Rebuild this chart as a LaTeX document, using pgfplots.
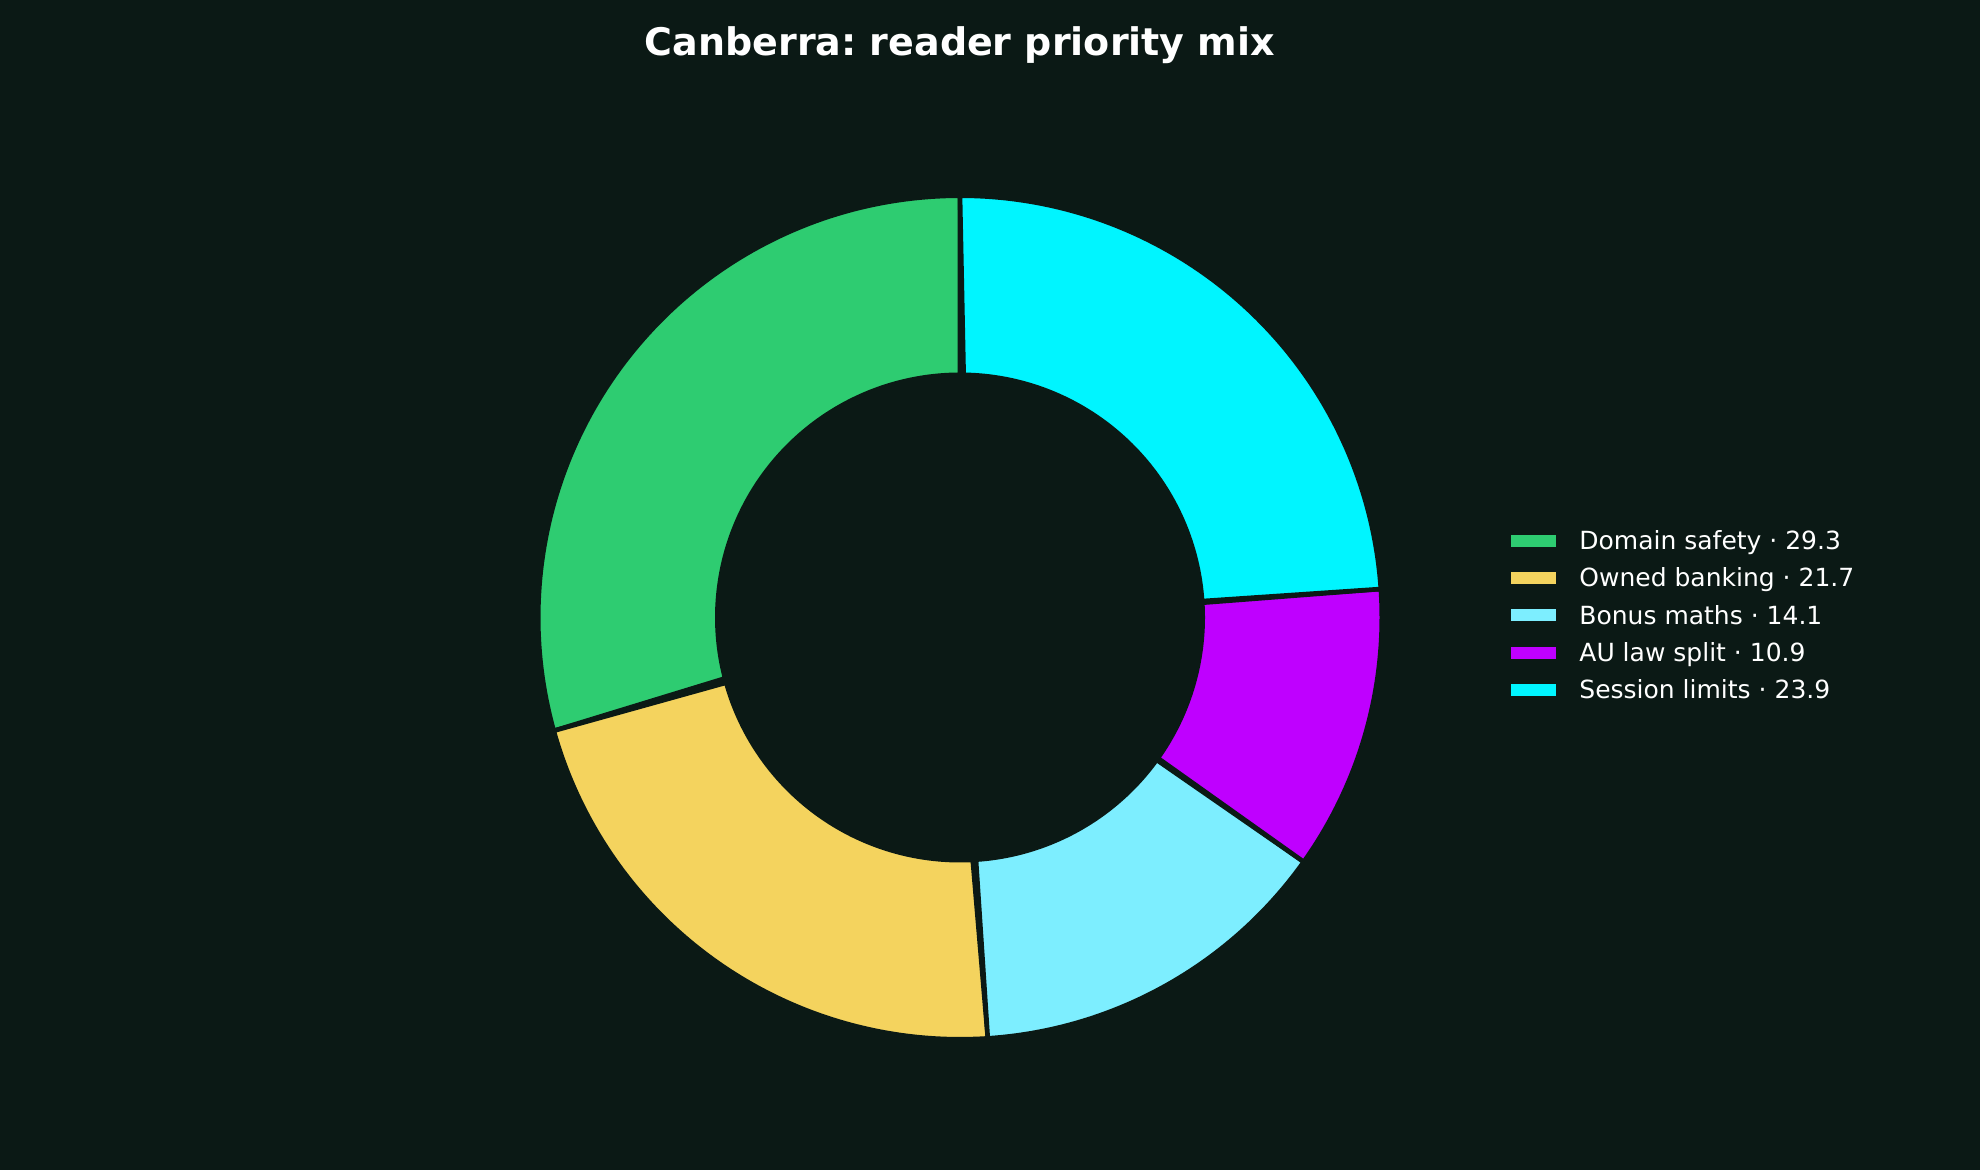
\documentclass[border=0pt]{standalone}
\usepackage{fontspec}
\setmainfont{DejaVu Sans}
\usepackage{pgfplots}
\pgfplotsset{compat=1.18}

\definecolor{bg}{HTML}{0B1915}
\definecolor{cGreen}{HTML}{2ECC71}
\definecolor{cYellow}{HTML}{F4D35E}
\definecolor{cLight}{HTML}{7DEEFF}
\definecolor{cPurple}{HTML}{BF00FF}
\definecolor{cCyan}{HTML}{00F5FF}

% slice values
\def\vA{29.3}\def\vB{21.7}\def\vC{14.1}\def\vD{10.9}\def\vE{23.9}
\pgfmathsetmacro\tot{\vA+\vB+\vC+\vD+\vE}
\pgfmathsetmacro\aA{90}
\pgfmathsetmacro\aB{\aA+\vA/\tot*360}
\pgfmathsetmacro\aC{\aB+\vB/\tot*360}
\pgfmathsetmacro\aD{\aC+\vC/\tot*360}
\pgfmathsetmacro\aE{\aD+\vD/\tot*360}
\pgfmathsetmacro\aF{\aE+\vE/\tot*360}

% centre and radii in pixel units
\def\cx{960}\def\cy{552.5}\def\Ro{421.8}\def\Ri{242.7}

\pgfplotsset{
  ring/.style={
    fill=#1, draw=bg, line width=2.3pt, line join=round,
    domain=0:2, samples=201, variable=\t,
  },
}
\newcommand{\slice}[3]{%
  \addplot[ring=#1]
    ({ifthenelse(\t<1.005, \cx+\Ro*cos(#2+(#3-#2)*\t), \cx+\Ri*cos(#3-(#3-#2)*(\t-1)))},
     {ifthenelse(\t<1.005, \cy+\Ro*sin(#2+(#3-#2)*\t), \cy+\Ri*sin(#3-(#3-#2)*(\t-1)))}) -- cycle;
}

\begin{document}
\frenchspacing
\begin{tikzpicture}
\begin{axis}[
    scale only axis,
    width=990pt, height=585pt,
    xmin=0, xmax=1980, ymin=0, ymax=1170,
    axis lines=none, ticks=none,
    axis background/.style={fill=bg},
    title={\bfseries Canberra: reader priority mix},
    title style={at={(0.4848,0.9422)}, anchor=base, font=\fontsize{19}{22}\selectfont, text=white},
    legend style={
        at={(axis cs:1511,638.7)}, anchor=north west,
        draw=none, fill=none, text=white,
        font=\fontsize{12.5}{14}\selectfont,
        row sep=6.65pt, inner sep=0pt,
        nodes={inner sep=0pt, text height=9pt, text depth=3pt},
        /tikz/every odd column/.append style={column sep=11.5pt},
    },
    legend cell align=left,
    legend image code/.code={\fill[#1, draw=none] (0pt,-1.5pt) rectangle (22.5pt,4.5pt);},
]
\path (rel axis cs:0,0) rectangle (rel axis cs:1,1);
\slice{cGreen}{\aA}{\aB}
\addlegendentry{Domain safety · 29.3}
\slice{cYellow}{\aB}{\aC}
\addlegendentry{Owned banking · 21.7}
\slice{cLight}{\aC}{\aD}
\addlegendentry{Bonus maths · 14.1}
\slice{cPurple}{\aD}{\aE}
\addlegendentry{AU law split · 10.9}
\slice{cCyan}{\aE}{\aF}
\addlegendentry{Session limits · 23.9}
\end{axis}
\end{tikzpicture}
\end{document}
